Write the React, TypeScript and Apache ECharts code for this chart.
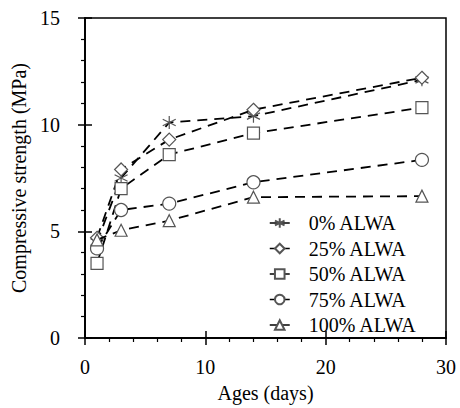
import React, { useEffect, useRef } from "react";
import * as echarts from "echarts";

const ages = [1, 3, 7, 14, 28];
const seriesNames = ["0% ALWA", "25% ALWA", "50% ALWA", "75% ALWA", "100% ALWA"];
const alwa0 = [4.5, 7.5, 10.1, 10.4, 12.1];
const alwa25 = [4.7, 7.9, 9.3, 10.7, 12.2];
const alwa50 = [3.5, 7.0, 8.6, 9.6, 10.8];
const alwa75 = [4.2, 6.0, 6.3, 7.3, 8.35];
const alwa100 = [4.6, 5.05, 5.5, 6.6, 6.65];
const seriesValues = [alwa0, alwa25, alwa50, alwa75, alwa100];

const asterisk = "path://M0,-10L0,10M-8.66,-5L8.66,5M-8.66,5L8.66,-5";
const symbols = [asterisk, "diamond", "rect", "circle", "triangle"];
const symbolSizes = [13, 13, 12, 13, 12];

const FONT = "Liberation Serif";

export default function App() {
  const ref = useRef<HTMLDivElement>(null);
  useEffect(() => {
    if (!ref.current) return;
    const chart = echarts.init(ref.current, null, { renderer: "svg" });
    const axisCommon = {
      axisLine: { lineStyle: { color: "#000", width: 1.5 } },
      splitLine: { show: false },
    };
    chart.setOption({
      animation: false,
      backgroundColor: "#fff",
      grid: {
        left: 85,
        right: 14,
        top: 18,
        bottom: 64,
        show: true,
        borderColor: "#000",
        borderWidth: 1.5,
        backgroundColor: "transparent",
      },
      legend: {
        orient: "vertical",
        left: 264,
        top: 208,
        itemWidth: 20,
        itemHeight: 12,
        itemGap: 5.5,
        data: seriesNames,
        lineStyle: { type: "solid", width: 1.5 },
        textStyle: { fontFamily: FONT, fontSize: 20, color: "#000", padding: [0, 0, 0, 14] },
      },
      xAxis: [
        {
          type: "value",
          min: 0,
          max: 30,
          interval: 10,
          position: "bottom",
          ...axisCommon,
          axisTick: { show: true, inside: false, length: 7, lineStyle: { color: "#000", width: 1.5 } },
          minorTick: { show: true, splitNumber: 5, length: 4, lineStyle: { color: "#000", width: 1.2 } },
          axisLabel: { fontFamily: FONT, fontSize: 20, color: "#000", margin: 19 },
          name: "Ages (days)",
          nameLocation: "middle",
          nameGap: 45,
          nameTextStyle: { fontFamily: FONT, fontSize: 20, color: "#000" },
        },
        {
          type: "value",
          min: 0,
          max: 30,
          interval: 10,
          position: "bottom",
          ...axisCommon,
          axisTick: { show: true, inside: true, length: 7, lineStyle: { color: "#000", width: 1.5 } },
          axisLabel: { show: false },
        },
      ],
      yAxis: [
        {
          type: "value",
          min: 0,
          max: 15,
          interval: 5,
          position: "left",
          ...axisCommon,
          axisTick: { show: true, inside: false, length: 7, lineStyle: { color: "#000", width: 1.5 } },
          minorTick: { show: true, splitNumber: 5, length: 4, lineStyle: { color: "#000", width: 1.2 } },
          axisLabel: { fontFamily: FONT, fontSize: 20, color: "#000", margin: 25 },
          name: "Compressive strength (MPa)",
          nameLocation: "middle",
          nameGap: 48,
          nameTextStyle: { fontFamily: FONT, fontSize: 20, color: "#000" },
        },
        {
          type: "value",
          min: 0,
          max: 15,
          interval: 5,
          position: "left",
          ...axisCommon,
          axisTick: { show: true, inside: true, length: 7, lineStyle: { color: "#000", width: 1.5 } },
          axisLabel: { show: false },
        },
      ],
      series: seriesNames.map((name, i) => ({
        name,
        type: "line",
        xAxisIndex: 0,
        yAxisIndex: 0,
        data: ages.map((a, j) => [a, seriesValues[i][j]]),
        symbol: symbols[i],
        symbolSize: symbolSizes[i],
        showAllSymbol: true,
        z: 2 + i,
        lineStyle: { color: "#000", width: 1.8, type: [10, 7] },
        itemStyle: {
          color: i === 0 ? "none" : "#fff",
          borderColor: "#555",
          borderWidth: 1.2,
        },
        emphasis: { disabled: true },
      })),
    });
    return () => chart.dispose();
  }, []);
  return <div ref={ref} style={{ position: "absolute", left: 0, top: 0, width: 460, height: 408 }} />;
}
